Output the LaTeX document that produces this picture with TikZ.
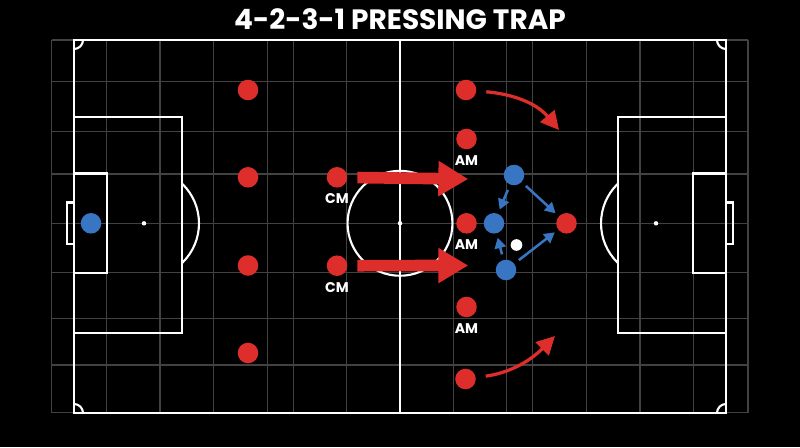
\documentclass[tikz,border=0pt]{standalone}
\usepackage{fontspec}
\setmainfont{Poppins}
\usepackage{xcolor}
\usepackage{tikz}
\usetikzlibrary{arrows.meta, positioning}
\definecolor{pressred}{RGB}{222,46,44}
\definecolor{pressblue}{RGB}{56,118,196}
\definecolor{gridgrey}{RGB}{66,66,66}
\tikzstyle{redman} = [circle, minimum size=14.6pt, inner sep=0pt, fill=pressred]
\tikzstyle{blueman} = [circle, minimum size=14.6pt, inner sep=0pt, fill=pressblue]
\tikzstyle{ball} = [circle, minimum size=8.3pt, inner sep=0pt, fill=white]
\tikzstyle{tag} = [inner sep=0pt, text=white, font=\bfseries\fontsize{10}{11}\selectfont]
\tikzstyle{title} = [inner sep=0pt, text=white, font=\bfseries\fontsize{19.9}{22}\selectfont]
\tikzstyle{pitchline} = [white, line width=1.5pt]
\tikzstyle{gridline} = [gridgrey, line width=0.8pt]
\tikzstyle{push} = [pressred, line width=8.3pt, -{Triangle[length=21.3pt,width=23.7pt]}, shorten <=7pt]
\tikzstyle{swing} = [pressred, line width=2.3pt, -{Triangle[length=13pt,width=13pt]}, shorten <=7pt]
\tikzstyle{cover} = [pressblue, line width=1.8pt, -{Triangle[length=7.5pt,width=8pt]}, shorten <=4pt, shorten >=3pt]

\begin{document}
\begin{tikzpicture}[x=0.025cm, y=-0.025cm]
  \fill[black] (0,0) rectangle (800,447);
  \useasboundingbox (0,0) rectangle (800,447);

  \node (title) [title] at (400,19.5) {4-2-3-1 PRESSING TRAP};

  \foreach \gx in {51.7,106.7,160,213.3,267.5,293.3,346.7,453.3,506.7,532.5,586.7,640,693.3,748}
    \draw [gridline] (\gx,40) -- (\gx,413);
  \foreach \gy in {40,81.7,131.7,174,223.3,272.5,318.3,365,412.7}
    \draw [gridline] (51.7,\gy) -- (748,\gy);

  \draw [pitchline] (74,40) rectangle (726,413);
  \draw [pitchline] (400,40) -- (400,413);
  \draw [pitchline] (400,223.3) circle[radius=37.3pt];
  \fill [white] (400,223.3) circle[radius=1.6pt];
  \draw [pitchline] (74,117) rectangle (182,333);
  \draw [pitchline] (74,173.5) rectangle (107,273);
  \draw [pitchline] (67,202.5) rectangle (74,244);
  \fill [white] (144,223.3) circle[radius=1.6pt];
  \draw [pitchline] (618,117) rectangle (726,333);
  \draw [pitchline] (693,173.5) rectangle (726,273);
  \draw [pitchline] (726,202.5) rectangle (733,244);
  \fill [white] (656,223.3) circle[radius=1.6pt];
  \begin{scope}
    \clip (182,40) rectangle (300,413);
    \draw [pitchline] (144,223.3) circle[radius=39.1pt];
  \end{scope}
  \begin{scope}
    \clip (500,40) rectangle (618,413);
    \draw [pitchline] (656,223.3) circle[radius=39.1pt];
  \end{scope}
  \begin{scope}
    \clip (74,40) rectangle (726,413);
    \draw [pitchline] (74,40) circle[radius=6.4pt];
    \draw [pitchline] (726,40) circle[radius=6.4pt];
    \draw [pitchline] (74,413) circle[radius=6.4pt];
    \draw [pitchline] (726,413) circle[radius=6.4pt];
  \end{scope}

  \node (gk)  [blueman] at (91,223.3) {};
  \node (rd1) [redman] at (248,90) {};
  \node (rd2) [redman] at (248,177.3) {};
  \node (rd3) [redman] at (248,265.5) {};
  \node (rd4) [redman] at (248,353) {};
  \node (cm1) [redman] at (337,177.3) {};
  \node (cm2) [redman] at (337,265.7) {};
  \node (rw1) [redman] at (466,90) {};
  \node (am1) [redman] at (466.5,139) {};
  \node (am2) [redman] at (466.5,223.3) {};
  \node (am3) [redman] at (466.5,307) {};
  \node (rw2) [redman] at (465.5,379) {};
  \node (st)  [redman] at (566.5,223.3) {};
  \node (bl1) [blueman] at (514,175) {};
  \node (bl2) [blueman] at (494,223.3) {};
  \node (bl3) [blueman] at (506,270) {};
  \node (bal) [ball] at (516.5,245) {};

  \node (cm1tag) [tag, below=4pt of cm1] {CM};
  \node (cm2tag) [tag, below=4pt of cm2] {CM};
  \node (am1tag) [tag, below=4pt of am1] {AM};
  \node (am2tag) [tag, below=4pt of am2] {AM};
  \node (am3tag) [tag, below=4pt of am3] {AM};

  \coordinate (push1) at (468.3,179);
  \coordinate (push2) at (468.3,265.5);
  \coordinate (swing1) at (559,130);
  \coordinate (swing2) at (555,336);

  \draw [push] (cm1) -- (push1);
  \draw [push] (cm2) -- (push2);
  \draw [swing] (rw1) to[out=-5, in=130] (swing1);
  \draw [swing] (rw2) to[out=8, in=225] (swing2);

  \draw [cover] (bl1) -- (bl2);
  \draw [cover] (bl1) -- (st);
  \draw [cover] (bl3) -- (bl2);
  \draw [cover] (bl3) -- (st);
\end{tikzpicture}
\end{document}
